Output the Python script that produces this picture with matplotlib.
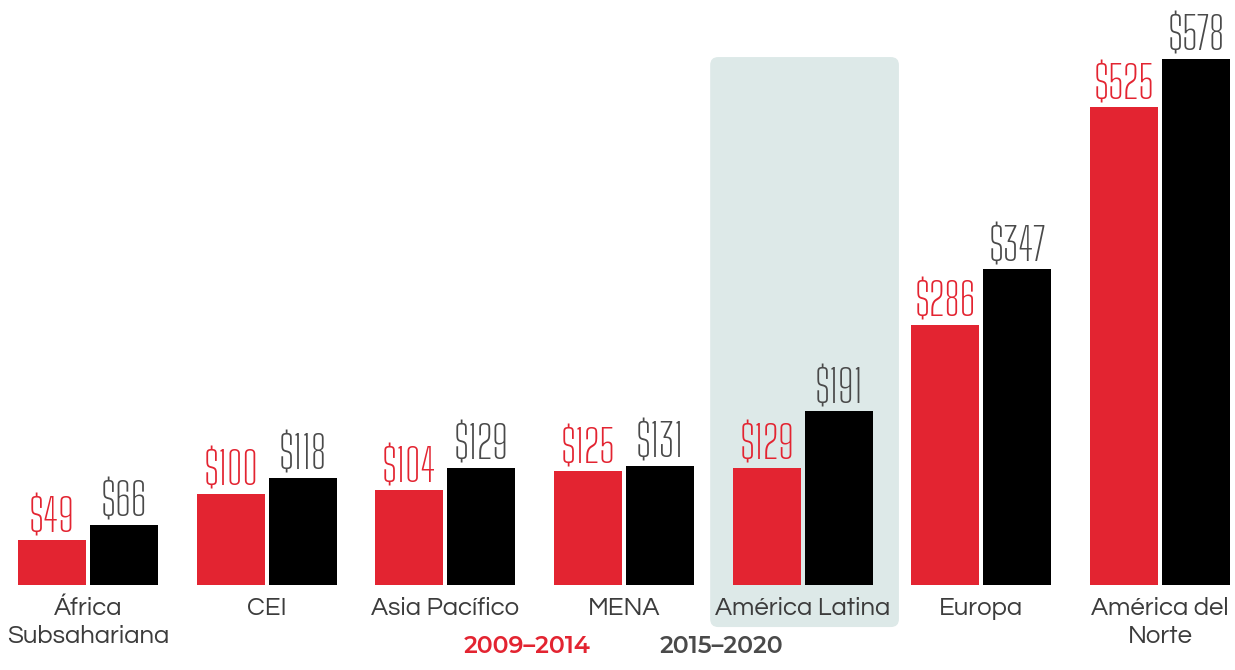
import matplotlib
matplotlib.use("Agg")
import matplotlib.pyplot as plt
from matplotlib.patches import FancyBboxPatch
from matplotlib import font_manager as fm
from matplotlib.font_manager import FontProperties
import numpy as np

categories = ["África\nSubsahariana", "CEI", "Asia Pacífico", "MENA", "América Latina", "Europa", "América del\nNorte"]
values_2009_2014 = [49, 100, 104, 125, 129, 286, 525]
values_2015_2020 = [66, 118, 129, 131, 191, 347, 578]
series_labels = ["2009–2014", "2015–2020"]
highlight_index = 4

RED = "#e32431"
BLACK = "#000000"
GREY = "#4a4a4a"
TEXT = "#3c3c3c"

avail = {f.name for f in fm.fontManager.ttflist}

def pick(options, default="DejaVu Sans"):
    for o in options:
        if o in avail:
            return o
    return default

def find_file(substr):
    for f in fm.fontManager.ttflist:
        if f.fname.split("/")[-1] == substr:
            return f.fname
    return None

cond_font = pick(["Big Shoulders Text", "Saira Condensed", "Barlow Condensed"])
cat_font = pick(["Questrial", "Didact Gothic", "Lato"])
leg_file = find_file("MontserratAlternates-SemiBold.ttf")
if leg_file:
    leg_fp = FontProperties(fname=leg_file, size=17)
else:
    leg_fp = FontProperties(family="Lato", weight="bold", size=18)

fig = plt.figure(figsize=(12.35, 6.70), dpi=100)
ax = fig.add_axes([0, 0, 1, 1])
ax.set_xlim(-0.4925, 6.42)
ax.set_ylim(-93.4, 642.9)
ax.axis("off")

x = np.arange(len(categories))
w = 0.38
off = 0.2015

# highlight box
hx0, hx1 = highlight_index - 0.5175, highlight_index + 0.539
hy0, hy1 = -46.2, 580.2
box = FancyBboxPatch((hx0, hy0), hx1 - hx0, hy1 - hy0,
                     boxstyle="round,pad=0,rounding_size=0.045",
                     mutation_aspect=196, facecolor="#dde9e8", edgecolor="none", zorder=0)
ax.add_patch(box)

ax.bar(x - off, values_2009_2014, width=w, color=RED, zorder=2)
ax.bar(x + off, values_2015_2020, width=w, color=BLACK, zorder=2)

for xi, v in zip(x, values_2009_2014):
    ax.text(xi - off, v + 9, f"${v}", ha="center", va="baseline", fontsize=32,
            color=RED, family=cond_font, zorder=3)
for xi, v in zip(x, values_2015_2020):
    ax.text(xi + off, v + 9, f"${v}", ha="center", va="baseline", fontsize=32,
            color=GREY, family=cond_font, zorder=3)

for xi, c in zip(x, categories):
    ax.text(xi, -13, c, ha="center", va="top", fontsize=18.5, color=TEXT,
            family=cat_font, linespacing=1.28, zorder=3)

ax.text((527 - 88) / 178.67, -(646 - 585) / 0.91, series_labels[0], ha="center", va="center",
        fontproperties=leg_fp, color=RED)
ax.text((722 - 88) / 178.67, -(646 - 585) / 0.91, series_labels[1], ha="center", va="center",
        fontproperties=leg_fp, color=GREY)

fig.savefig("out.png", dpi=100)
